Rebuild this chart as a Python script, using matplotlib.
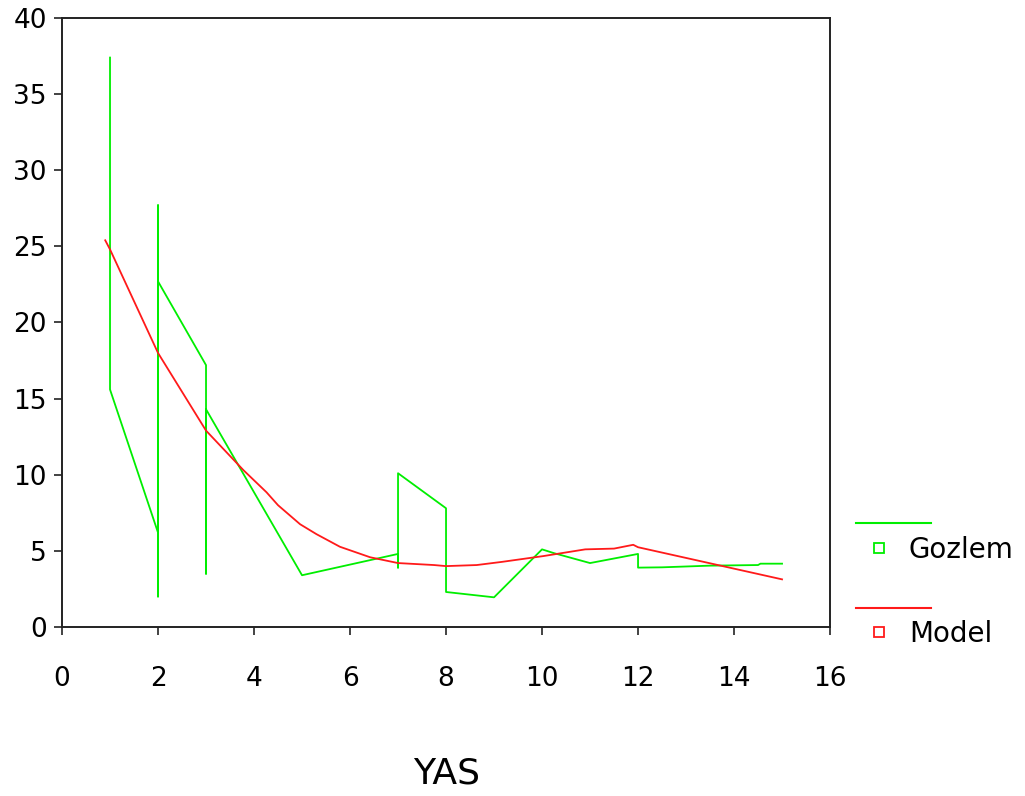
import matplotlib.pyplot as plt
from matplotlib.lines import Line2D

plt.rcParams['font.family'] = ['DejaVu Sans']

# gozlem (observed) values, in data order
gozlem_x = [1, 1, 2, 2, 2, 2, 3, 3, 3, 5, 7, 7, 7, 8, 8, 9, 10, 10.25, 11, 12, 12, 12.5, 13.5, 14.5, 14.55, 15]
gozlem_y = [37.4, 15.6, 6.2, 27.7, 2.0, 22.7, 17.2, 3.5, 14.3, 3.4, 4.8, 3.9, 10.1, 7.8, 2.3, 1.95, 5.1, 4.85,
            4.2, 4.8, 3.9, 3.92, 4.03, 4.07, 4.16, 4.16]

# model (fitted) values
model_x = [0.9, 1.0, 2.0, 3.0, 3.78, 4.26, 4.5, 4.96, 5.3, 5.79, 6.42, 7.0, 7.75, 8.0, 8.64, 9.17,
           10.03, 10.9, 11.5, 11.9, 12.0, 15.0]
model_y = [25.4, 24.8, 18.0, 12.9, 10.3, 8.85, 8.0, 6.75, 6.1, 5.27, 4.58, 4.2, 4.07, 4.0, 4.07, 4.28,
           4.66, 5.1, 5.15, 5.4, 5.24, 3.13]

green = '#00ee00'
red = '#ff1a1a'

fig = plt.figure(figsize=(10.25, 7.96), dpi=100)
ax = fig.add_axes([0.0605, 0.2123, 0.7493, 0.7651])

ax.plot(gozlem_x, gozlem_y, color=green, lw=1.3)
ax.plot(model_x, model_y, color=red, lw=1.3)

ax.set_xlim(0, 16)
ax.set_ylim(0, 40)
ax.set_xticks(range(0, 17, 2))
ax.set_yticks(range(0, 41, 5))
for s in ax.spines.values():
    s.set_linewidth(1.4)
    s.set_color('#222222')
ax.tick_params(axis='both', direction='out', length=6, width=1.2, labelsize=19, colors='#222222',
               labelcolor='black')
ax.tick_params(axis='x', pad=22)
ax.tick_params(axis='y', pad=5)

fig.text(447 / 1025, 1 - 773 / 796, 'YAS', fontsize=26, ha='center', va='center')

# legend drawn outside, line sample above a square marker + label
for yline, ysq, label, col in [(523, 548, 'Gozlem', green), (608, 632, 'Model', red)]:
    fig.add_artist(Line2D([856 / 1025, 931 / 1025], [1 - yline / 796, 1 - yline / 796],
                          color=col, lw=1.5, transform=fig.transFigure))
    fig.add_artist(Line2D([879 / 1025], [1 - ysq / 796], marker='s', markersize=7, mfc='white',
                          mec=col, mew=1.3, transform=fig.transFigure))
    fig.text(909 / 1025, 1 - (ysq + 2) / 796, label, fontsize=20, ha='left', va='center')

fig.savefig('out.png', dpi=100, facecolor='white')
